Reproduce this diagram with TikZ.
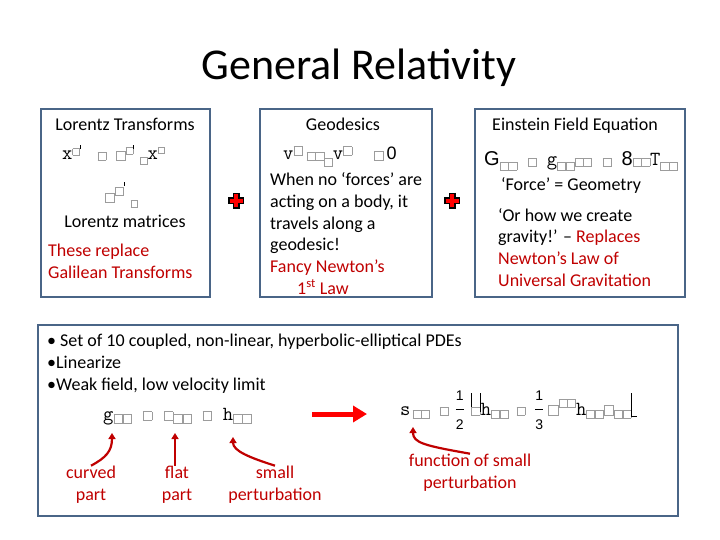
\documentclass[tikz,border=0pt]{standalone}
\usepackage{fontspec}
\usepackage{amsmath}
\setmainfont{Carlito}
\newfontfamily\eqsans{Liberation Sans}
\usetikzlibrary{positioning,arrows.meta,calc}

\definecolor{panelblue}{HTML}{4A6587}
\definecolor{notered}{HTML}{C00000}
\definecolor{glyphgray}{HTML}{9C9C9C}

% boxes left by the missing equation glyphs
\newcommand{\gb}[1][7.5pt]{{\color{glyphgray}\setlength{\fboxsep}{0pt}\setlength{\fboxrule}{0.6pt}\fbox{\rule{0pt}{#1}\hspace{#1}}}}
\newcommand{\up}[2][5pt]{\raisebox{#1}{#2}}
\newcommand{\prm}{\raisebox{11pt}{\rule{1pt}{4pt}}}
\newcommand{\vbar}{\rule[3pt]{0.7pt}{19pt}}
\newcommand{\smfrac}[2]{\ensuremath{\dfrac{\text{\eqsans\fontsize{14}{14}\selectfont #1}}{\text{\eqsans\fontsize{14}{14}\selectfont #2}}}}

\tikzset{
  panel/.style={draw=panelblue, line width=2.6pt},
  txt/.style={inner sep=0pt, font=\fontsize{18}{21.6}\selectfont},
  redtxt/.style={txt, text=notered},
  eqn/.style={inner sep=0pt, font=\fontsize{20}{24}\selectfont\ttfamily},
  ptr/.style={draw=notered, line width=2.2pt, -{Triangle[length=6pt,width=7pt]}},
}

\begin{document}
\begin{tikzpicture}[x=1pt,y=-1pt]
\useasboundingbox (0,0) rectangle (720,540);
\fill[white] (0,0) rectangle (720,540);

\node[inner sep=0pt, font=\fontsize{44}{52}\selectfont, anchor=base] (title) at (359,80) {General Relativity};

% panels
\draw[panel] (41,109) rectangle (210,297);
\draw[panel] (260,109) rectangle (432,297);
\draw[panel] (475,109) rectangle (685,297);
\draw[panel] (38,325) rectangle (678,516);

% Lorentz (multi-line nodes sit on their last baseline)
\node[txt, anchor=base] (lorentz) at (125,131) {Lorentz Transforms};
\node[eqn, anchor=base west] (lorentzeq) at (62,160) {x\up{\gb[6pt]}\prm\hspace{17pt}\gb\hspace{10pt}\gb[8pt]\up[6pt]{\gb[6.5pt]}\prm\hspace{6pt}\up[-4pt]{\gb[6pt]}x\up[7pt]{\gb[5.5pt]}};
\node[eqn, anchor=base west] (lorentzmat) at (105,200) {\up[-2pt]{\gb[8.5pt]}\up[5pt]{\gb[7.5pt]}\raisebox{14pt}{\rule{1pt}{4pt}}\hspace{6pt}\up[-7pt]{\gb[6pt]}};
\node[txt, anchor=base] (matrices) at (125,227) {Lorentz matrices};
\node[redtxt, anchor=base west, align=left] (galilean) at (48,278) {These replace\\Galilean Transforms};

% geodesics
\node[txt, anchor=base] (geodesics) at (343,131) {Geodesics};
\node[eqn, anchor=base west] (geodeq) at (283,160) {v\up[5pt]{\gb[8pt]}\hspace{4pt}\gb\gb\up[-6pt]{\gb}v\up[5pt]{\gb[8pt]}\hspace{22pt}\gb[8pt]\hspace{3pt}{\eqsans\fontsize{18}{18}\selectfont 0}};
\node[txt, anchor=base west, align=left] (freefall) at (270,294) {When no ‘forces’ are\\acting on a body, it\\travels along a\\geodesic!\\\textcolor{notered}{Fancy Newton’s}\\\hspace*{27pt}\textcolor{notered}{1\textsuperscript{st} Law}};

% field equation
\node[txt, anchor=base] (einstein) at (575,131) {Einstein Field Equation};
\node[eqn, anchor=base west] (fieldeq) at (484,166) {{\eqsans G}\up[-4pt]{\gb\gb}\hspace{11pt}\gb\hspace{10pt}g\up[-4pt]{\gb\gb}\gb\gb\hspace{11pt}\gb\hspace{10pt}{\eqsans 8}\gb\gb T\up[-4pt]{\gb\gb}};
\node[txt, anchor=base west] (forcegeom) at (501,191) {‘Force’ = Geometry};
\node[txt, anchor=base west, align=left] (gravity) at (498,286) {‘Or how we create\\gravity!’ – \textcolor{notered}{Replaces}\\\textcolor{notered}{Newton’s Law of}\\\textcolor{notered}{Universal Gravitation}};

% plus signs
\foreach \nm/\px in {plusA/236, plusB/452}{
  \coordinate (\nm) at (\px,201);
  \draw[line width=7pt] ($(\nm)+(-8,0)$) -- ($(\nm)+(8,0)$) ($(\nm)+(0,-8)$) -- ($(\nm)+(0,8)$);
  \draw[red, line width=4.4pt] ($(\nm)+(-6.5,0)$) -- ($(\nm)+(6.5,0)$) ($(\nm)+(0,-6.5)$) -- ($(\nm)+(0,6.5)$);
}

% linearized field
\node[txt, anchor=base west, align=left] (pdes) at (47,390) {• Set of 10 coupled, non-linear, hyperbolic-elliptical PDEs\\•Linearize\\•Weak field, low velocity limit};
\node[eqn, anchor=base west] (metric) at (103,420) {g\up[-3pt]{\gb[8pt]\gb[8pt]}\hspace{11pt}\gb[8pt]\hspace{12pt}\gb[8pt]\up[-3pt]{\gb[8pt]\gb[8pt]}\hspace{11pt}\gb[8pt]\hspace{11pt}h\up[-3pt]{\gb[8pt]\gb[8pt]}};
\node[eqn, anchor=base west] (potential) at (400,415) {s\hspace{2pt}\up[-3pt]{\gb\gb}\hspace{10pt}\gb\hspace{6pt}\smfrac{1}{2}\hspace{6pt}\vbar\gb\vbar h\up[-3pt]{\gb\gb}\hspace{8pt}\gb\hspace{9pt}\smfrac{1}{3}\hspace{4pt}\gb[9pt]\up[8pt]{\gb\gb}h\up[-3pt]{\gb\gb}\gb[9pt]\up[-3pt]{\gb\gb}\rule[-2pt]{0.7pt}{24pt}\rule[-2pt]{5pt}{0.7pt}};

\coordinate (lintail) at (312,414);
\coordinate (linhead) at (367,414);
\draw[red, line width=5pt, -{Triangle[length=14pt,width=16pt]}] (lintail) -- (linhead);

\node[redtxt, anchor=base, align=center] (curvedlbl) at (91,500) {curved\\part};
\node[redtxt, anchor=base, align=center] (flatlbl) at (177,500) {flat\\part};
\node[redtxt, anchor=base, align=center] (smalllbl) at (275,500) {small\\perturbation};
\node[redtxt, anchor=base, align=center] (funclbl) at (470,488) {function of small\\perturbation};

\coordinate (gtip) at (112,433);
\coordinate (etatip) at (175,433);
\coordinate (htip) at (233,437);
\coordinate (stip) at (413,427);

\draw[ptr] (curvedlbl.north) .. controls +(15,-8) and +(0,18) .. (gtip);
\draw[ptr] (etatip |- flatlbl.north) -- (etatip);
\draw[ptr] (smalllbl.north) .. controls +(-25,-8) and +(0,14) .. (htip);
\draw[ptr] (funclbl.north) .. controls +(-45,-8) and +(0,16) .. (stip);
\end{tikzpicture}
\end{document}
